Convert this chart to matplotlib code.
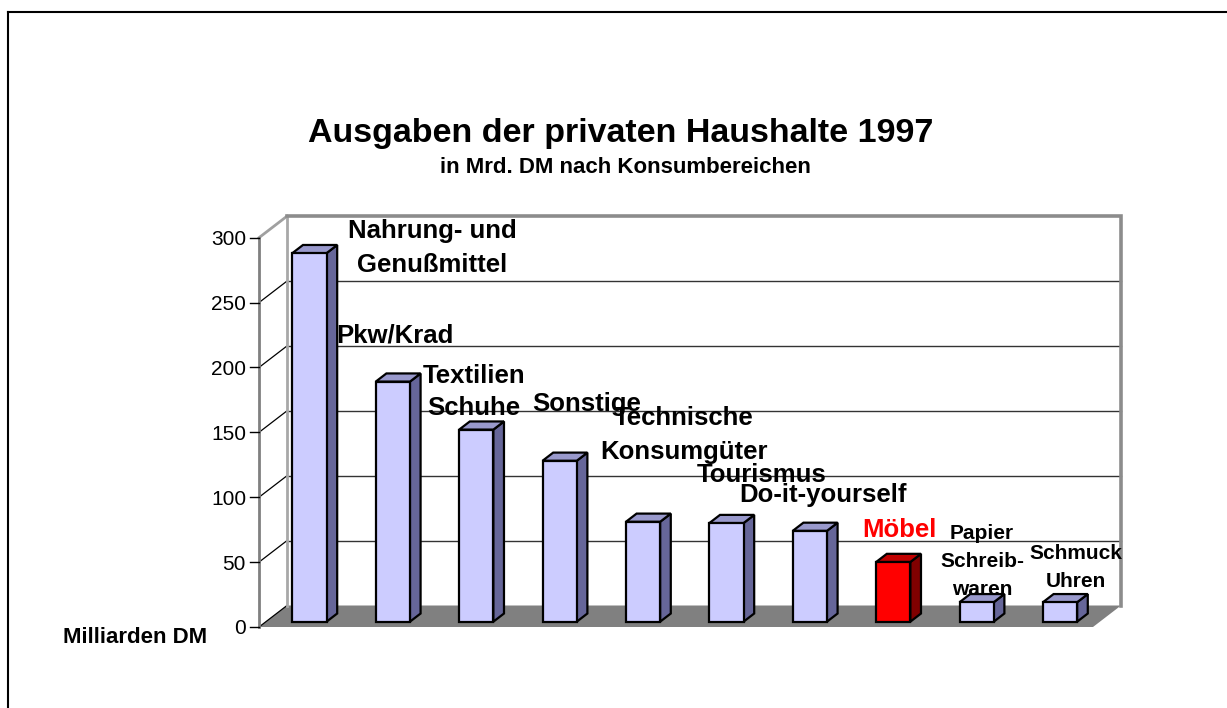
import matplotlib
matplotlib.use("Agg")
import matplotlib.pyplot as plt
from matplotlib.lines import Line2D

plt.rcParams['font.family'] = ['Liberation Sans', 'DejaVu Sans']

# ---------------- data ----------------
categories = ["Nahrung- und Genußmittel", "Pkw/Krad", "Textilien Schuhe", "Sonstige",
              "Technische Konsumgüter", "Tourismus", "Do-it-yourself", "Möbel",
              "Papier Schreibwaren", "Schmuck Uhren"]
label_lines = [["Nahrung- und", "Genußmittel"], ["Pkw/Krad"], ["Textilien", "Schuhe"],
               ["Sonstige"], ["Technische", "Konsumgüter"], ["Tourismus"],
               ["Do-it-yourself"], ["Möbel"], ["Papier", "Schreib-", "waren"],
               ["Schmuck", "Uhren"]]
values = [284, 185, 148, 124, 77, 76, 70, 46, 15, 15]
highlight = "Möbel"
yticks = [0, 50, 100, 150, 200, 250, 300]
title = "Ausgaben der privaten Haushalte 1997"
subtitle = "in Mrd. DM nach Konsumbereichen"
ylabel = "Milliarden DM"

# ---------------- layout ----------------
W, H = 1227, 708
PX = 83.4      # pixels per category
PY = 1.2977    # pixels per value unit
X0, Y0 = 259, 627  # pixel position of origin (from top-left)
DX = 28 / PX       # full depth offset (x, in categories)
DY = 21.5 / PY     # full depth offset (y, in value units)
F0 = 0.247         # depth of bar front face
FB = 0.38          # bar depth
BAR_OFF = 0.317
BW = 0.41

# label placement: (x center in categories, first baseline in values, line step in values, size)
label_pos = [(2.080, 299.8, 26.0, 18.5), (1.631, 219.6, 25.0, 18.5), (2.578, 188.0, 24.7, 18.5),
             (3.927, 166.4, 25.0, 18.5), (5.090, 155.7, 26.5, 18.5), (6.031, 111.7, 25.0, 18.5),
             (6.757, 96.3, 25.0, 18.5), (7.680, 69.4, 25.0, 18.5), (8.669, 67.8, 21.6, 15),
             (9.796, 52.4, 21.6, 15)]

fig = plt.figure(figsize=(W / 100, H / 100), dpi=100)
ax = fig.add_axes([0, 0, 1, 1])
ax.set_xlim(-X0 / PX, (W - X0) / PX)
ax.set_ylim(-(H - Y0) / PY, Y0 / PY)
ax.axis('off')

n = len(categories)
ymax = yticks[-1]

# floor
ax.fill([0, n, n + DX, DX], [0, 0, DY, DY], color='#808080', zorder=1, lw=0)
# back wall
ax.fill([DX, n + DX, n + DX, DX], [DY, DY, ymax + DY, ymax + DY], color='white', zorder=0.5, lw=0)
for v in yticks[1:-1]:
    ax.plot([DX, n + DX], [v + DY, v + DY], color='#333333', lw=1.0, zorder=1)
ax.plot([DX, n + DX, n + DX], [ymax + DY, ymax + DY, DY], color='#8c8c8c', lw=2.6,
        zorder=1.2, solid_joinstyle='miter')
# left wall
for v in yticks[:-1]:
    ax.plot([0, DX], [v, v + DY], color='black', lw=0.9, zorder=1.1)
ax.plot([0, DX], [ymax, ymax + DY], color='#a0a0a0', lw=2, zorder=1.1)
ax.plot([DX, DX], [DY, ymax + DY], color='#a8a8a8', lw=2, zorder=1.1)
ax.plot([0, 0], [0, ymax], color='#808080', lw=2, zorder=1.3)
for v in yticks:
    ax.plot([-9 / PX, 0], [v, v], color='black', lw=1.0, zorder=1.3)
    ax.text(-13 / PX, v, str(v), ha='right', va='center_baseline', fontsize=15)

# bars
front_cols = ['#FF0000' if c == highlight else '#CCCCFF' for c in categories]
side_cols = ['#800000' if c == highlight else '#666699' for c in categories]
top_cols = ['#C00000' if c == highlight else '#9999CC' for c in categories]
xs = [i + BAR_OFF + F0 * DX for i in range(n)]
bars = ax.bar(xs, values, width=BW, bottom=F0 * DY, align='edge', color=front_cols,
              edgecolor='black', linewidth=1.6, zorder=3)
bdx, bdy = FB * DX, FB * DY
for rect, sc, tc in zip(bars.patches, side_cols, top_cols):
    x, y, w, h = rect.get_x(), rect.get_y(), rect.get_width(), rect.get_height()
    ax.fill([x + w, x + w + bdx, x + w + bdx, x + w], [y, y + bdy, y + h + bdy, y + h],
            facecolor=sc, edgecolor='black', lw=1.6, zorder=2.9, joinstyle='miter')
    ax.fill([x, x + w, x + w + bdx, x + bdx], [y + h, y + h, y + h + bdy, y + h + bdy],
            facecolor=tc, edgecolor='black', lw=1.6, zorder=2.9, joinstyle='miter')

# category labels
for lines, (lx, ly, step, fs), c in zip(label_lines, label_pos, categories):
    col = 'red' if c == highlight else 'black'
    for k, t in enumerate(lines):
        ax.text(lx, ly - k * step, t, ha='center', va='baseline', fontsize=fs,
                fontweight='bold', color=col, zorder=5)

# titles
fig.text(621 / W, 1 - 142 / H, title, ha='center', va='baseline', fontsize=24.5, fontweight='bold')
fig.text(625 / W, 1 - 173 / H, subtitle, ha='center', va='baseline', fontsize=16, fontweight='bold')
fig.text(135 / W, 1 - 643 / H, ylabel, ha='center', va='baseline', fontsize=16, fontweight='bold')

# outer frame (top and left)
fig.add_artist(Line2D([8 / W, 1], [1 - 12 / H, 1 - 12 / H], color='black', lw=1.5,
                      transform=fig.transFigure))
fig.add_artist(Line2D([8 / W, 8 / W], [0, 1 - 12 / H], color='black', lw=1.5,
                      transform=fig.transFigure))

fig.savefig('out.png', dpi=100)
